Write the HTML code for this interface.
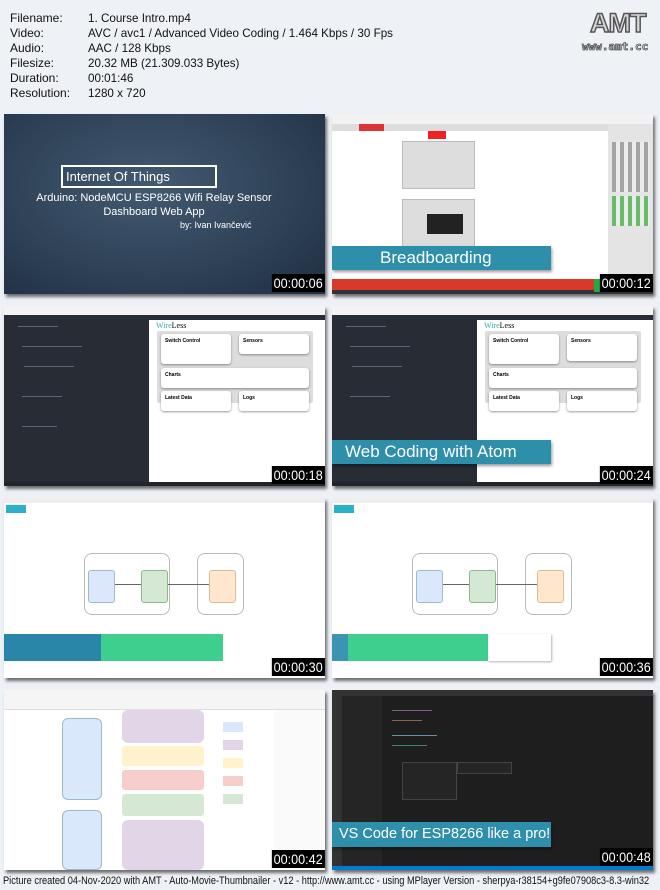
<!DOCTYPE html>
<html><head><meta charset="utf-8"><style>
*{margin:0;padding:0;box-sizing:border-box}
body{width:660px;height:890px;background:#eef1f6;font-family:"Liberation Sans",sans-serif;position:relative;overflow:hidden}
.hd{position:absolute;left:10px;font-size:12px;color:#111;line-height:15px;white-space:nowrap}
.f{position:absolute;width:321px;height:180px;overflow:hidden;box-shadow:2px 3px 3px rgba(0,0,0,.55)}
.ts{position:absolute;right:1px;bottom:2px;background:#000;color:#fff;font-size:14px;padding:1px 2px;line-height:16px;transform:scaleX(.9);transform-origin:right}
.ban{position:absolute;left:0;background:#2e8fab;color:#fff;font-size:17px;padding-left:14px;line-height:24px;box-shadow:1px 2px 3px rgba(0,0,0,.4);white-space:nowrap;overflow:hidden}
.ab{position:absolute}
.card{position:absolute;background:#fff;border-radius:3px;box-shadow:0 1px 2px rgba(0,0,0,.4);font-size:5px;font-weight:bold;padding:4px}
.code{position:absolute;height:1px;background:#7a8a9a;opacity:.6}
</style></head><body>
<div class="hd" style="top:11px">Filename:<br>Video:<br>Audio:<br>Filesize:<br>Duration:<br>Resolution:</div>
<div class="hd" style="top:11px;left:88px;transform:scaleX(.97);transform-origin:left">1. Course Intro.mp4<br>AVC / avc1 / Advanced Video Coding / 1.464 Kbps / 30 Fps<br>AAC / 128 Kbps<br>20.32 MB (21.309.033 Bytes)<br>00:01:46<br>1280 x 720</div>
<div class="ab" style="left:590px;top:8px;font-size:27px;color:#d8d8d8;-webkit-text-stroke:1.5px #555;font-weight:bold;letter-spacing:-1px">AMT</div>
<div class="ab" style="left:582px;top:40px;font-size:11px;color:#ddd;-webkit-text-stroke:.8px #555;font-weight:bold;font-family:'DejaVu Sans Mono',monospace">www.amt.cc</div>

<!-- F1 -->
<div class="f" style="left:4px;top:114px;background:radial-gradient(ellipse at 45% 40%,#435a72,#1f2f42)">
<div class="ab" style="left:57px;top:51px;width:156px;height:23px;border:2px solid #fff;color:#fff;font-size:13px;padding-left:3px;line-height:19px">Internet Of Things</div>
<div class="ab" style="left:0;width:300px;top:77px;text-align:center;color:#fff;font-size:11px;line-height:14px">Arduino: NodeMCU ESP8266 Wifi Relay Sensor<br>Dashboard Web App</div>
<div class="ab" style="left:176px;top:106px;color:#fff;font-size:9px">by: Ivan Ivančević</div>
<div class="ts">00:00:06</div></div>

<!-- F2 -->
<div class="f" style="left:332px;top:114px;background:#fff">
<div class="ab" style="left:0;top:0;width:321px;height:10px;background:#f2f2f2"></div>
<div class="ab" style="left:0;top:10px;width:321px;height:7px;background:#ddd"></div>
<div class="ab" style="left:27px;top:10px;width:25px;height:7px;background:#d33"></div>
<div class="ab" style="left:276px;top:10px;width:45px;height:170px;background:#e4e4e4"></div>
<div class="ab" style="left:280px;top:28px;width:38px;height:50px;background:repeating-linear-gradient(90deg,#888 0 4px,#eee 4px 8px);opacity:.7"></div>
<div class="ab" style="left:280px;top:82px;width:38px;height:30px;background:repeating-linear-gradient(90deg,#3a3 0 4px,#eee 4px 8px);opacity:.7"></div>
<div class="ab" style="left:70px;top:27px;width:73px;height:48px;background:#ddd;border:1px solid #bbb"></div>
<div class="ab" style="left:70px;top:85px;width:73px;height:48px;background:#ddd;border:1px solid #bbb"></div>
<div class="ab" style="left:96px;top:17px;width:18px;height:8px;background:#e22"></div>
<div class="ab" style="left:95px;top:100px;width:36px;height:20px;background:#222"></div>
<div class="ban" style="top:132px;width:219px;font-size:17px;padding-left:48px">Breadboarding</div>
<div class="ab" style="left:0;top:165px;width:321px;height:11px;background:#d63a2b"></div>
<div class="ab" style="left:0;top:176px;width:321px;height:4px;background:#333"></div>
<div class="ab" style="left:262px;top:165px;width:13px;height:13px;background:#2a4"></div>
<div class="ts">00:00:12</div></div>

<!-- F3/F4 -->
<div class="f" style="left:4px;top:306px;background:#282c34">
<div class="ab" style="left:0;top:0;width:321px;height:9px;background:#f3f3f3"></div>
<div class="ab" style="left:145px;top:14px;width:176px;height:162px;background:#fff"></div>
<div class="ab" style="left:152px;top:15px;font-family:'Liberation Serif',serif;font-size:8px;color:#000"><span style="color:#3aa">Wire</span>Less</div>
<div class="ab" style="left:153px;top:25px;width:156px;height:72px;background:#ddd;border-radius:2px"></div>
<div class="card" style="left:157px;top:28px;width:70px;height:30px">Switch Control</div>
<div class="card" style="left:235px;top:28px;width:70px;height:20px">Sensors</div>
<div class="card" style="left:157px;top:62px;width:148px;height:20px">Charts</div>
<div class="card" style="left:157px;top:85px;width:70px;height:20px">Latest Data</div>
<div class="card" style="left:235px;top:85px;width:70px;height:20px">Logs</div>
<div class="code" style="left:14px;top:20px;width:40px"></div><div class="code" style="left:18px;top:40px;width:60px"></div><div class="code" style="left:20px;top:60px;width:50px"></div><div class="code" style="left:18px;top:90px;width:40px"></div><div class="code" style="left:18px;top:120px;width:35px"></div>
<div class="ab" style="left:0;top:176px;width:321px;height:4px;background:#21252b"></div>
<div class="ts">00:00:18</div></div>

<div class="f" style="left:332px;top:306px;background:#282c34">
<div class="ab" style="left:0;top:0;width:321px;height:9px;background:#f3f3f3"></div>
<div class="ab" style="left:145px;top:14px;width:176px;height:162px;background:#fff"></div>
<div class="ab" style="left:152px;top:15px;font-family:'Liberation Serif',serif;font-size:8px;color:#000"><span style="color:#3aa">Wire</span>Less</div>
<div class="ab" style="left:153px;top:25px;width:156px;height:72px;background:#ddd;border-radius:2px"></div>
<div class="card" style="left:157px;top:28px;width:70px;height:30px">Switch Control</div>
<div class="card" style="left:235px;top:28px;width:70px;height:27px">Sensors</div>
<div class="card" style="left:157px;top:62px;width:148px;height:20px">Charts</div>
<div class="card" style="left:157px;top:85px;width:70px;height:20px">Latest Data</div>
<div class="card" style="left:235px;top:85px;width:70px;height:20px">Logs</div>
<div class="code" style="left:14px;top:20px;width:40px"></div><div class="code" style="left:18px;top:40px;width:60px"></div><div class="code" style="left:20px;top:60px;width:50px"></div><div class="code" style="left:18px;top:90px;width:40px"></div>
<div class="ban" style="top:134px;width:219px;font-size:17px;padding-left:13px">Web Coding with Atom</div>
<div class="ab" style="left:0;top:176px;width:321px;height:4px;background:#21252b"></div>
<div class="ts">00:00:24</div></div>

<!-- F5/F6 -->
<div class="f" style="left:4px;top:498px;background:#fff">
<div class="ab" style="left:0;top:0;width:321px;height:5px;background:#eee"></div>
<div class="ab" style="left:2px;top:7px;width:20px;height:8px;background:#2ab0c8"></div>
<div class="ab" style="left:80px;top:55px;width:86px;height:62px;border:1px solid #bbb;border-radius:8px"></div>
<div class="ab" style="left:193px;top:55px;width:47px;height:62px;border:1px solid #bbb;border-radius:8px"></div>
<div class="ab" style="left:84px;top:72px;width:27px;height:33px;background:#dbe8fb;border:1px solid #9bc;border-radius:3px"></div>
<div class="ab" style="left:137px;top:72px;width:27px;height:33px;background:#d5e8d4;border:1px solid #8b8;border-radius:3px"></div>
<div class="ab" style="left:205px;top:72px;width:27px;height:33px;background:#ffe6cc;border:1px solid #db9;border-radius:3px"></div>
<div class="ab" style="left:111px;top:86px;width:26px;height:1px;background:#666"></div>
<div class="ab" style="left:164px;top:86px;width:41px;height:1px;background:#666"></div>
<div class="ab" style="left:0;top:136px;width:97px;height:27px;background:#2a86a8"></div>
<div class="ab" style="left:97px;top:136px;width:122px;height:27px;background:#3ecf8e"></div>
<div class="ts">00:00:30</div></div>

<div class="f" style="left:332px;top:498px;background:#fff">
<div class="ab" style="left:0;top:0;width:321px;height:5px;background:#eee"></div>
<div class="ab" style="left:2px;top:7px;width:20px;height:8px;background:#2ab0c8"></div>
<div class="ab" style="left:80px;top:55px;width:86px;height:62px;border:1px solid #bbb;border-radius:8px"></div>
<div class="ab" style="left:193px;top:55px;width:47px;height:62px;border:1px solid #bbb;border-radius:8px"></div>
<div class="ab" style="left:84px;top:72px;width:27px;height:33px;background:#dbe8fb;border:1px solid #9bc;border-radius:3px"></div>
<div class="ab" style="left:137px;top:72px;width:27px;height:33px;background:#d5e8d4;border:1px solid #8b8;border-radius:3px"></div>
<div class="ab" style="left:205px;top:72px;width:27px;height:33px;background:#ffe6cc;border:1px solid #db9;border-radius:3px"></div>
<div class="ab" style="left:111px;top:86px;width:26px;height:1px;background:#666"></div>
<div class="ab" style="left:164px;top:86px;width:41px;height:1px;background:#666"></div>
<div class="ab" style="left:0;top:136px;width:16px;height:27px;background:#3a94b2"></div>
<div class="ab" style="left:16px;top:136px;width:140px;height:27px;background:#3ecf8e"></div>
<div class="ab" style="left:156px;top:136px;width:63px;height:27px;background:#fff;box-shadow:1px 1px 2px rgba(0,0,0,.3)"></div>
<div class="ts">00:00:36</div></div>

<!-- F7 -->
<div class="f" style="left:4px;top:690px;background:#fff">
<div class="ab" style="left:0;top:0;width:321px;height:20px;background:#f5f5f5;border-bottom:1px solid #ddd"></div>
<div class="ab" style="left:270px;top:20px;width:51px;height:155px;background:#fafafa"></div>
<div class="ab" style="left:58px;top:28px;width:40px;height:82px;background:#dae8fc;border:1px solid #9bc;border-radius:6px"></div>
<div class="ab" style="left:58px;top:120px;width:40px;height:60px;background:#dae8fc;border:1px solid #9bc;border-radius:6px"></div>
<div class="ab" style="left:118px;top:20px;width:82px;height:33px;background:#e1d5e7;border-radius:6px"></div>
<div class="ab" style="left:118px;top:56px;width:82px;height:20px;background:#fff2cc;border-radius:3px"></div>
<div class="ab" style="left:118px;top:80px;width:82px;height:20px;background:#f8cecc;border-radius:3px"></div>
<div class="ab" style="left:118px;top:104px;width:82px;height:22px;background:#d5e8d4;border-radius:3px"></div>
<div class="ab" style="left:118px;top:130px;width:82px;height:50px;background:#e1d5e7;border-radius:6px"></div>
<div class="ab" style="left:219px;top:32px;width:20px;height:10px;background:#dae8fc"></div>
<div class="ab" style="left:219px;top:50px;width:20px;height:10px;background:#e1d5e7"></div>
<div class="ab" style="left:219px;top:68px;width:20px;height:10px;background:#fff2cc"></div>
<div class="ab" style="left:219px;top:86px;width:20px;height:10px;background:#f8cecc"></div>
<div class="ab" style="left:219px;top:104px;width:20px;height:10px;background:#d5e8d4"></div>
<div class="ts">00:00:42</div></div>

<!-- F8 -->
<div class="f" style="left:332px;top:690px;background:#1e1e1e">
<div class="ab" style="left:0;top:0;width:321px;height:6px;background:#333"></div>
<div class="ab" style="left:0;top:6px;width:10px;height:170px;background:#333"></div>
<div class="ab" style="left:10px;top:6px;width:40px;height:170px;background:#252526"></div>
<div class="ab" style="left:70px;top:72px;width:55px;height:38px;background:#252526;border:1px solid #444"></div>
<div class="ab" style="left:125px;top:72px;width:55px;height:12px;background:#252526;border:1px solid #444"></div>
<div class="code" style="left:60px;top:20px;width:40px;background:#c586c0"></div><div class="code" style="left:60px;top:30px;width:30px;background:#ce9178"></div><div class="code" style="left:60px;top:45px;width:45px;background:#9cdcfe"></div><div class="code" style="left:60px;top:55px;width:35px;background:#4ec9b0"></div>
<div class="ban" style="top:132px;width:219px;font-size:14.5px;padding-left:7px;line-height:25px">VS Code for ESP8266 like a pro!</div>
<div class="ab" style="left:0;top:176px;width:321px;height:4px;background:#007acc"></div>
<div class="ts" style="bottom:4px">00:00:48</div></div>

<div class="ab" style="left:3px;top:875px;font-size:11px;color:#111;white-space:nowrap;transform:scaleX(.84);transform-origin:left">Picture created 04-Nov-2020 with AMT - Auto-Movie-Thumbnailer - v12 - http://www.amt.cc - using MPlayer Version - sherpya-r38154+g9fe07908c3-8.3-win32</div>
</body></html>
